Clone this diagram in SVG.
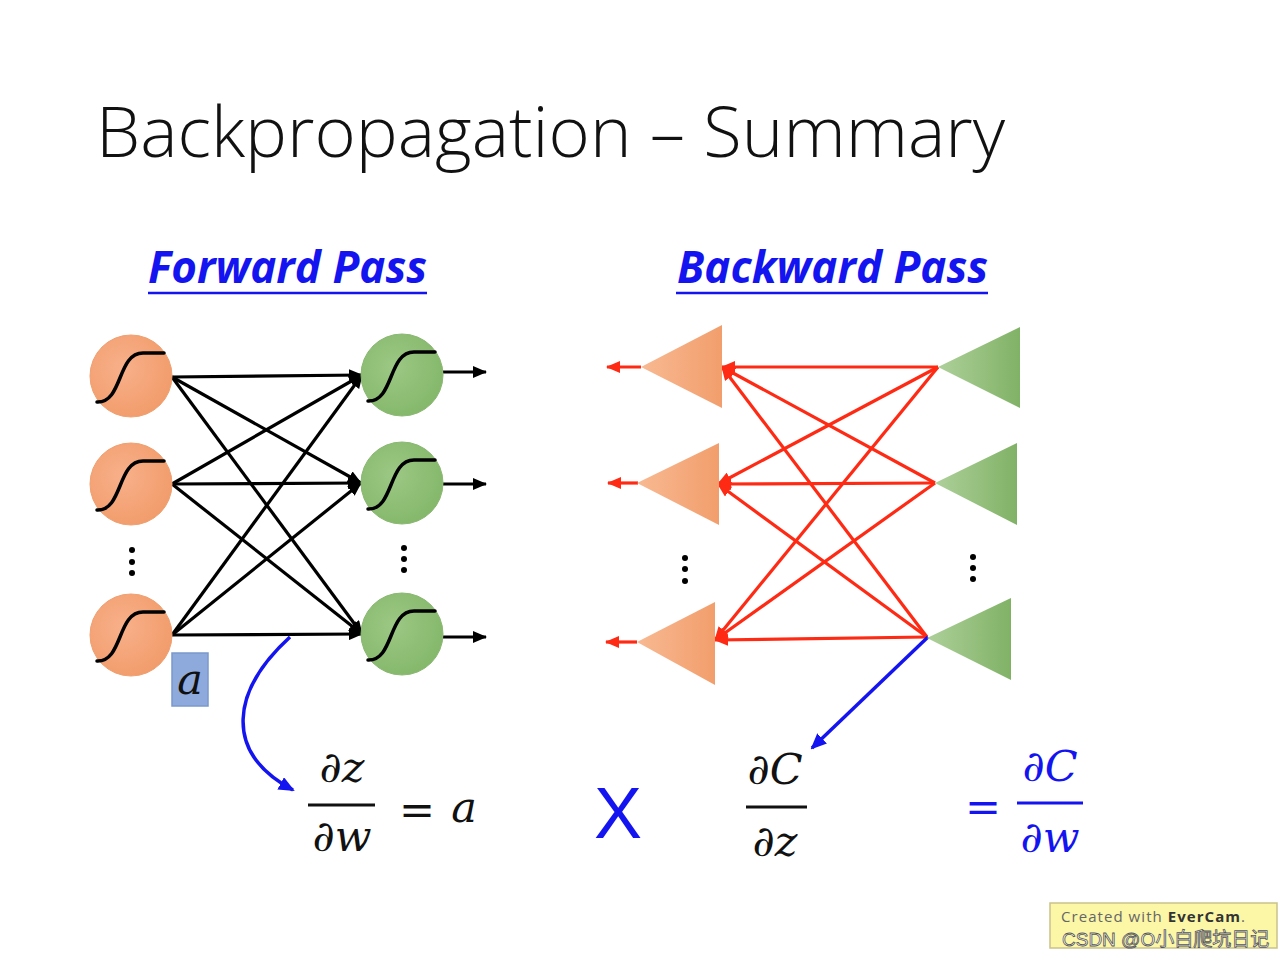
<svg xmlns="http://www.w3.org/2000/svg" width="1280" height="959" viewBox="0 0 1280 959">
<style>
.title{font-family:"Open Sans","Liberation Sans",sans-serif;font-weight:300;font-size:70px;fill:#111}
.hdr{font-family:"Open Sans","Liberation Sans",sans-serif;font-weight:700;font-style:italic;font-size:44px;fill:#1414f0}
.ul{stroke:#1414f0;stroke-width:2.5}
.math{font-family:"DejaVu Serif","Liberation Serif",serif;font-style:italic;font-size:43px;fill:#111}
.mathb{fill:#1414f0}
.fl{stroke:#111;stroke-width:3}
.flb{stroke:#1414f0;stroke-width:3}
.fw{stroke:#000;stroke-width:3.2;fill:none;marker-end:url(#ab)}
.bw{stroke:#ff2a14;stroke-width:3.2;fill:none;marker-end:url(#ar)}
.sig{stroke:#000;stroke-width:3.5;fill:none;stroke-linecap:round}
.oc{fill:url(#go);stroke:#f0a070;stroke-width:1}
.gc{fill:url(#gg);stroke:#8ab872;stroke-width:1}
.dot{fill:#000}
</style>
<defs>
<marker id="ab" markerUnits="userSpaceOnUse" markerWidth="14" markerHeight="12" refX="13" refY="6" orient="auto"><path d="M0,0 L14,6 L0,12 Z" fill="#000"/></marker>
<marker id="ar" markerUnits="userSpaceOnUse" markerWidth="14" markerHeight="12" refX="13" refY="6" orient="auto"><path d="M0,0 L14,6 L0,12 Z" fill="#ff2a14"/></marker>
<marker id="abl" markerUnits="userSpaceOnUse" markerWidth="16" markerHeight="14" refX="14" refY="7" orient="auto"><path d="M0,0 L16,7 L0,14 Z" fill="#1414f0"/></marker>
<radialGradient id="go" cx="0.4" cy="0.4" r="0.7"><stop offset="0" stop-color="#f8b08a"/><stop offset="1" stop-color="#f19a68"/></radialGradient>
<radialGradient id="gg" cx="0.4" cy="0.4" r="0.7"><stop offset="0" stop-color="#9cc884"/><stop offset="1" stop-color="#82b668"/></radialGradient>
<linearGradient id="to" x1="0" y1="0" x2="1" y2="0"><stop offset="0" stop-color="#f8b992"/><stop offset="1" stop-color="#f29e6c"/></linearGradient>
<linearGradient id="tg" x1="0" y1="0" x2="1" y2="0"><stop offset="0" stop-color="#aed09a"/><stop offset="1" stop-color="#80b266"/></linearGradient>
<path id="sg" d="M-34,26 C-8,27 -14,-23 12,-23 L33,-23" class="sig"/>
</defs>
<rect width="1280" height="959" fill="#fff"/>

<g id="title"><text class="title" x="96" y="157" textLength="909" lengthAdjust="spacingAndGlyphs">Backpropagation – Summary</text></g>

<g id="hdr-forward"><text class="hdr" x="148" y="283" textLength="279" lengthAdjust="spacingAndGlyphs">Forward Pass</text><line class="ul" x1="148" y1="293" x2="427" y2="293"/></g>
<g id="hdr-backward"><text class="hdr" x="677" y="283" textLength="311" lengthAdjust="spacingAndGlyphs">Backward Pass</text><line class="ul" x1="676" y1="293" x2="988" y2="293"/></g>

<g id="connectors">
<line class="fw" x1="172" y1="377" x2="362" y2="375"/>
<line class="fw" x1="172" y1="377" x2="361" y2="483"/>
<line class="fw" x1="172" y1="377" x2="362" y2="634"/>
<line class="fw" x1="172" y1="484" x2="362" y2="375"/>
<line class="fw" x1="172" y1="484" x2="361" y2="483"/>
<line class="fw" x1="172" y1="484" x2="362" y2="634"/>
<line class="fw" x1="172" y1="635" x2="362" y2="375"/>
<line class="fw" x1="172" y1="635" x2="361" y2="483"/>
<line class="fw" x1="172" y1="635" x2="362" y2="634"/>
<line class="fw" x1="443" y1="372" x2="486" y2="372"/>
<line class="fw" x1="443" y1="484" x2="486" y2="484"/>
<line class="fw" x1="443" y1="637" x2="486" y2="637"/>

<line class="bw" x1="938" y1="367" x2="722" y2="367"/>
<line class="bw" x1="938" y1="367" x2="718" y2="484"/>
<line class="bw" x1="938" y1="367" x2="715" y2="640"/>
<line class="bw" x1="935" y1="483" x2="722" y2="367"/>
<line class="bw" x1="935" y1="483" x2="718" y2="484"/>
<line class="bw" x1="935" y1="483" x2="715" y2="640"/>
<line class="bw" x1="927" y1="637" x2="722" y2="367"/>
<line class="bw" x1="927" y1="637" x2="718" y2="484"/>
<line class="bw" x1="927" y1="637" x2="715" y2="640"/>
<line class="bw" x1="641" y1="367" x2="607" y2="367"/>
<line class="bw" x1="638" y1="483" x2="608" y2="483"/>
<line class="bw" x1="637" y1="642" x2="606" y2="642"/>

<path d="M290,637 C232,690 222,752 293,790" fill="none" stroke="#1414f0" stroke-width="3.5" marker-end="url(#abl)"/>
<line x1="928" y1="637" x2="812" y2="748" stroke="#1414f0" stroke-width="3.5" marker-end="url(#abl)"/>
</g>

<g id="in1"><circle class="oc" cx="131" cy="376" r="41"/><use href="#sg" x="131" y="376"/></g>
<g id="in2"><circle class="oc" cx="131" cy="484" r="41"/><use href="#sg" x="131" y="484"/></g>
<g id="in3"><circle class="oc" cx="131" cy="635" r="41"/><use href="#sg" x="131" y="635"/></g>
<g id="out1"><circle class="gc" cx="402" cy="375" r="41"/><use href="#sg" x="402" y="375"/></g>
<g id="out2"><circle class="gc" cx="402" cy="483" r="41"/><use href="#sg" x="402" y="483"/></g>
<g id="out3"><circle class="gc" cx="402" cy="634" r="41"/><use href="#sg" x="402" y="634"/></g>
<g id="dots-f"><circle class="dot" cx="132" cy="550" r="3"/><circle class="dot" cx="132" cy="562" r="3"/><circle class="dot" cx="132" cy="573" r="3"/><circle class="dot" cx="404" cy="548" r="3"/><circle class="dot" cx="404" cy="559" r="3"/><circle class="dot" cx="404" cy="570" r="3"/></g>

<g id="a-box"><rect x="172" y="653" width="36" height="53" fill="#8eaadc" stroke="#7a98cc" stroke-width="1.5"/><text class="math" x="190" y="694" text-anchor="middle" font-size="36">a</text></g>

<g id="bin1"><polygon points="641,367 722,325 722,408" fill="url(#to)"/></g>
<g id="bin2"><polygon points="637,483 719,443 719,525" fill="url(#to)"/></g>
<g id="bin3"><polygon points="637,642 715,602 715,685" fill="url(#to)"/></g>
<g id="bout1"><polygon points="938,367 1020,327 1020,408" fill="url(#tg)"/></g>
<g id="bout2"><polygon points="935,483 1017,443 1017,525" fill="url(#tg)"/></g>
<g id="bout3"><polygon points="927,638 1011,598 1011,680" fill="url(#tg)"/></g>
<g id="dots-b"><circle class="dot" cx="685" cy="558" r="3"/><circle class="dot" cx="685" cy="569" r="3"/><circle class="dot" cx="685" cy="581" r="3"/><circle class="dot" cx="973" cy="557" r="3"/><circle class="dot" cx="973" cy="568" r="3"/><circle class="dot" cx="973" cy="579" r="3"/></g>

<g id="eq1">
<text class="math" x="342" y="782" text-anchor="middle">∂z</text>
<line class="fl" x1="308" y1="805" x2="375" y2="805"/>
<text class="math" x="342" y="851" text-anchor="middle">∂w</text>
<text class="math" x="417" y="825" text-anchor="middle" font-style="normal" font-size="52">=</text>
<text class="math" x="464" y="822" text-anchor="middle">a</text>
</g>
<g id="times"><text x="618" y="838" text-anchor="middle" font-family="Liberation Sans,sans-serif" font-size="72" fill="#1414f0">X</text></g>
<g id="eq2">
<text class="math" x="775" y="784" text-anchor="middle">∂C</text>
<line class="fl" x1="746" y1="807" x2="807" y2="807"/>
<text class="math" x="775" y="856" text-anchor="middle">∂z</text>
</g>
<g id="eq3">
<text class="math mathb" x="983" y="822" text-anchor="middle" font-style="normal" font-size="52">=</text>
<text class="math mathb" x="1050" y="781" text-anchor="middle">∂C</text>
<line class="flb" x1="1017" y1="803" x2="1083" y2="803"/>
<text class="math mathb" x="1050" y="852" text-anchor="middle">∂w</text>
</g>

<g id="watermark">
<rect x="1050" y="903" width="227" height="45" fill="#fbf7a6" stroke="#c9c28a" stroke-width="1.5"/>
<text x="1061" y="922" font-family="Open Sans,Liberation Sans,sans-serif" font-size="15" fill="#666" textLength="184" lengthAdjust="spacing">Created with <tspan font-weight="700" fill="#333">EverCam</tspan>.</text>
<text x="1062" y="946" font-family="Liberation Sans,Noto Sans CJK SC,sans-serif" font-size="19" fill="#fff" stroke="#555" stroke-width="0.8">CSDN @O小白爬坑日记</text>
</g>
</svg>
